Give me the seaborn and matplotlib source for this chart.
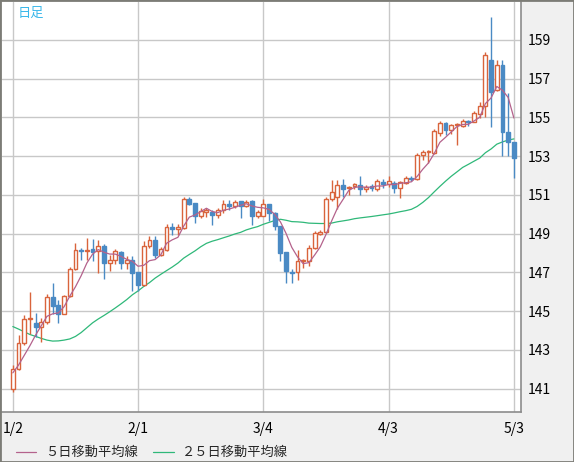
import matplotlib
matplotlib.use("Agg")
import matplotlib.pyplot as plt
import seaborn as sns
import pandas as pd
from matplotlib.lines import Line2D
from matplotlib.patches import Rectangle

# daily candles 2024/1/2 - 5/3 (weekdays)
dates = pd.bdate_range("2024-01-02", "2024-05-03")

opens = [140.97, 142.03, 143.34, 144.60, 144.38, 144.21, 144.47, 145.75, 145.30, 144.88,
         145.79, 147.19, 148.18, 148.10, 148.20, 148.10, 148.38, 147.50, 147.65, 148.08,
         147.50, 147.62, 147.02, 146.38, 148.38, 148.69, 147.92, 148.15, 149.34, 149.27,
         149.30, 150.80, 150.59, 149.89, 150.10, 150.11, 149.95, 150.25, 150.52, 150.45,
         150.69, 150.45, 150.69, 149.94, 149.94, 150.54, 150.08, 149.38, 148.04, 147.02,
         147.00, 147.60, 147.60, 148.28, 149.00, 149.09, 150.78, 150.88, 151.54, 151.34,
         151.46, 151.53, 151.29, 151.44, 151.29, 151.67, 151.56, 151.63, 151.36, 151.63,
         151.87, 151.80, 153.07, 153.20, 153.17, 154.20, 154.71, 154.34, 154.61, 154.58,
         154.83, 154.78, 155.20, 155.57, 157.97, 156.43, 157.71, 154.23, 153.74]
highs = [142.23, 143.77, 144.79, 145.98, 144.93, 144.64, 145.87, 146.44, 145.56, 145.82,
         147.29, 148.52, 148.26, 148.78, 148.73, 148.70, 148.45, 147.92, 148.20, 148.10,
         147.87, 147.87, 147.05, 148.60, 148.86, 148.86, 148.32, 149.51, 149.58, 149.51,
         150.91, 150.90, 150.60, 150.35, 150.35, 150.23, 150.35, 150.73, 150.76, 150.76,
         150.70, 150.76, 150.72, 150.23, 150.78, 150.56, 150.10, 149.40, 148.06, 147.19,
         148.14, 147.70, 148.40, 149.16, 149.20, 150.88, 151.77, 151.77, 151.85, 151.48,
         151.63, 151.97, 151.53, 151.58, 151.84, 151.84, 151.97, 151.70, 151.70, 151.97,
         152.00, 153.17, 153.34, 153.34, 154.40, 154.81, 154.75, 154.68, 154.71, 154.92,
         154.89, 155.31, 155.78, 158.40, 160.17, 157.97, 157.97, 156.26, 153.76]
lows = [140.85, 141.95, 143.25, 143.82, 143.65, 143.43, 144.33, 144.85, 144.37, 144.85,
        145.75, 147.15, 147.63, 147.63, 147.58, 146.98, 146.68, 147.07, 147.46, 147.19,
        147.19, 146.04, 146.04, 146.30, 148.26, 147.75, 147.87, 148.10, 148.95, 148.95,
        149.25, 150.50, 149.55, 149.80, 149.84, 149.47, 149.80, 150.08, 150.25, 150.32,
        149.80, 150.40, 149.47, 149.80, 149.90, 149.67, 149.20, 147.60, 146.47, 146.47,
        146.63, 147.25, 147.34, 148.19, 148.92, 149.05, 150.69, 150.27, 150.92, 151.00,
        151.32, 151.02, 151.15, 151.19, 151.19, 151.36, 151.41, 151.12, 150.85, 151.58,
        151.70, 151.78, 152.78, 152.66, 153.12, 154.03, 154.11, 154.17, 153.57, 154.51,
        154.58, 154.75, 154.97, 155.02, 154.51, 156.39, 153.03, 153.03, 151.89]
closes = [142.03, 143.34, 144.62, 144.64, 144.21, 144.47, 145.75, 145.27, 144.88, 145.79,
          147.19, 148.18, 148.12, 148.15, 148.08, 148.38, 147.50, 147.65, 148.13, 147.50,
          147.62, 146.98, 146.38, 148.38, 148.69, 147.90, 148.23, 149.34, 149.27, 149.34,
          150.78, 150.56, 149.89, 150.15, 150.20, 149.95, 150.25, 150.52, 150.45, 150.66,
          150.45, 150.66, 149.94, 150.11, 150.52, 150.05, 149.38, 148.00, 147.09, 146.95,
          147.61, 147.62, 148.28, 149.03, 149.09, 150.78, 151.14, 151.54, 151.31, 151.41,
          151.56, 151.29, 151.41, 151.36, 151.70, 151.56, 151.70, 151.36, 151.67, 151.87,
          151.80, 153.07, 153.24, 153.29, 154.28, 154.71, 154.37, 154.63, 154.66, 154.83,
          154.75, 155.23, 155.57, 158.21, 156.29, 157.71, 154.23, 153.72, 152.91]

# moving-average values before the window fills
ma5_head = [141.82, 142.22, 142.72, 143.22]
ma25_head = [144.21, 144.08, 143.94, 143.80, 143.70, 143.60, 143.51, 143.46, 143.47, 143.51,
             143.57, 143.70, 143.90, 144.15, 144.40, 144.60, 144.78, 144.97, 145.17, 145.38,
             145.60, 145.85, 146.05, 146.28]

tick_labels = ["1/2", "2/1", "3/4", "4/3", "5/3"]
y_ticks = [141, 143, 145, 147, 149, 151, 153, 155, 157, 159]

df = pd.DataFrame({"open": opens, "high": highs, "low": lows, "close": closes})
df["i"] = range(len(df))
df["label"] = [f"{d.month}/{d.day}" for d in dates]
ma5 = df["close"].rolling(5).mean()
ma5.iloc[:len(ma5_head)] = ma5_head
ma25 = df["close"].rolling(25).mean()
ma25.iloc[:len(ma25_head)] = ma25_head
df["ma5"] = ma5
df["ma25"] = ma25

UP = "#d9643c"
DOWN = "#4a8ac4"
MA5_C = "#b4628c"
MA25_C = "#2fb879"

sns.set_style("white")
plt.rcParams["font.family"] = ["Noto Sans CJK JP", "DejaVu Sans"]

fig = plt.figure(figsize=(5.74, 4.62), dpi=100, facecolor="#f0f0f0")
ax = fig.add_axes([2 / 574, 50 / 462, 519 / 574, 410 / 462])
ax.set_facecolor("white")

# candles
up = df[df["close"] >= df["open"]]
dn = df[df["close"] < df["open"]]
for part, col, face in [(up, UP, "white"), (dn, DOWN, DOWN)]:
    ax.vlines(part["i"], part["low"], part["high"], color=col, lw=1, zorder=3)
    bottom = part[["open", "close"]].min(axis=1)
    height = (part["close"] - part["open"]).abs().clip(lower=0.03)
    ax.bar(part["i"], height, bottom=bottom, width=0.68, facecolor=face,
           edgecolor=col, linewidth=1, zorder=4)

sns.lineplot(data=df, x="i", y="ma5", color=MA5_C, lw=0.9, ax=ax, zorder=5)
sns.lineplot(data=df, x="i", y="ma25", color=MA25_C, lw=0.9, ax=ax, zorder=2)

ax.set_xlim(-1.9, 89.25)
ax.set_ylim(139.8, 160.96)
tick_pos = [df.index[df["label"] == t][0] for t in tick_labels]
ax.set_xticks(tick_pos)
ax.set_xticklabels(tick_labels, fontsize=10)
ax.set_yticks(y_ticks)
ax.set_yticklabels([str(v) for v in y_ticks], fontsize=10)
ax.yaxis.tick_right()
ax.tick_params(axis="both", length=0, colors="black")
ax.tick_params(axis="x", pad=7)
ax.tick_params(axis="y", pad=5)
ax.set_xlabel("")
ax.set_ylabel("")
ax.grid(True, color="#c8c8c8", lw=1)
ax.set_axisbelow(True)
for s in ["top", "left"]:
    ax.spines[s].set_visible(False)
for s in ["right", "bottom"]:
    ax.spines[s].set_color("#8c8c8c")
    ax.spines[s].set_linewidth(1.2)

ax.text(16 / 519, 0.988, "日足", transform=ax.transAxes, color="#3bb8ea",
        fontsize=9.5, va="top", ha="left")

# legend at the bottom
ly = 1 - 452 / 462
fig.add_artist(Line2D([16 / 574, 36 / 574], [ly, ly], color=MA5_C, lw=0.9))
fig.text(45 / 574, ly, "５日移動平均線", fontsize=9.5, va="center", ha="left")
fig.add_artist(Line2D([153 / 574, 174 / 574], [ly, ly], color=MA25_C, lw=0.9))
fig.text(182 / 574, ly, "２５日移動平均線", fontsize=9.5, va="center", ha="left")

fig.add_artist(Rectangle((0, 0), 1, 1, transform=fig.transFigure, fill=False,
                         edgecolor="#7c7c76", lw=2))

fig.savefig("out.png", dpi=100, facecolor=fig.get_facecolor())
